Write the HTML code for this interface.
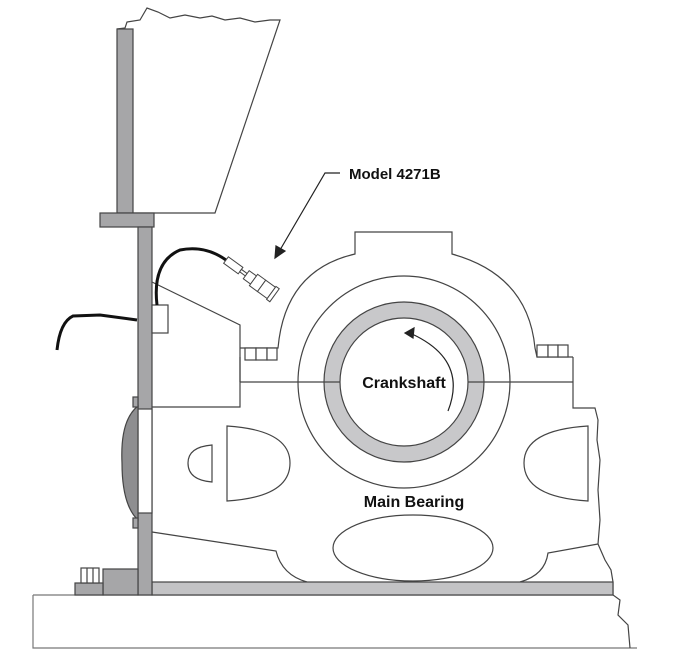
<!DOCTYPE html>
<html><head><style>html,body{margin:0;padding:0;background:#fff}svg{display:block}</style></head><body>
<svg width="685" height="661" viewBox="0 0 685 661" xmlns="http://www.w3.org/2000/svg" fill="none" stroke="#444" stroke-width="1.2">
<path d="M117 29 L125 28 L127 22 L140 20 L147 8 L158 12 L170 18 L185 15 L200 18 L212 16 L225 20 L240 18 L255 22 L270 20 L280 20 L215 213 L133 213" fill="#fff"/>
<rect x="117" y="29" width="16" height="184" fill="#a6a6a8"/>
<rect x="100" y="213" width="54" height="14" fill="#a6a6a8"/>
<path d="M33 595 L613 595 M33 595 L33 648 L637 648" stroke="#777"/>
<path d="M613 582 L613 595 L620 600 L618 615 L628 625 L630 648"/>
<path d="M152 282 L240 325 L240 407 L152 407"/>
<path d="M240 357 L240 382 M573 357 L573 408 L595 408 L598 420 L597 440 L600 460 L598 490 L600 520 L598 544 L605 560 L611 570 L613 582"/>
<path d="M240 348 L278 348 Q285 270 355 254 L355 232 L452 232 L452 254 Q528 275 535 348 L537 357 L573 357"/>
<path d="M152 532 L276 551 Q282 575 307 582 M520 582 Q545 575 548 553 L598 544"/>
<circle cx="404" cy="382" r="106"/>
<circle cx="404" cy="382" r="72" stroke="#c8c8ca" stroke-width="16"/>
<circle cx="404" cy="382" r="80"/>
<circle cx="404" cy="382" r="64"/>
<path d="M240 382 L340 382 M468 382 L573 382"/>
<g fill="#fff"><rect x="245" y="348" width="11" height="12"/><rect x="256" y="348" width="11" height="12"/><rect x="267" y="348" width="10" height="12"/>
<rect x="537" y="345" width="11" height="12"/><rect x="548" y="345" width="10" height="12"/><rect x="558" y="345" width="10" height="12"/></g>
<path d="M212 445 L212 482 Q188 480 188 463 Q188 447 212 445 Z"/>
<path d="M227 426 L227 501 Q290 497 290 463 Q290 430 227 426 Z"/>
<path d="M588 426 L588 501 Q524 497 524 463 Q524 430 588 426 Z"/>
<ellipse cx="413" cy="548" rx="80" ry="33"/>
<rect x="152" y="582" width="461" height="13" fill="#c3c3c5"/>
<rect x="138" y="227" width="14" height="368" fill="#a6a6a8"/>
<rect x="138" y="409" width="14" height="104" fill="#fff"/>
<path d="M138 406 Q120 420 122 463 Q122 505 138 520 Z" fill="#8e8e90"/>
<rect x="133" y="397" width="5" height="10" fill="#a6a6a8"/>
<rect x="133" y="518" width="5" height="10" fill="#a6a6a8"/>
<rect x="103" y="569" width="35" height="26" fill="#a6a6a8"/>
<rect x="75" y="583" width="28" height="12" fill="#a6a6a8"/>
<rect x="81" y="568" width="18" height="15" fill="#fff"/><path d="M87 568 L87 583 M93 568 L93 583"/>
<rect x="152" y="305" width="16" height="28" fill="#fff"/>
<path d="M157 305 Q152 262 180 250 Q205 245 226 260" stroke="#111" stroke-width="3"/>
<path d="M137 320 L100 315 L73 316 Q60 322 57 350" stroke="#111" stroke-width="3"/>
<g transform="translate(226,260) rotate(36)" fill="#fff" stroke-width="1">
<rect x="0" y="-4" width="18" height="8"/><rect x="18" y="-1.5" width="7" height="3"/><rect x="25" y="-5" width="9" height="10"/>
<rect x="34" y="-7" width="10" height="14"/><rect x="44" y="-7" width="12" height="14"/><rect x="56" y="-8" width="4" height="16"/>
</g>
<path d="M340 173 L325 173 L280 250" stroke="#222"/>
<path d="M275 258 L276 246 L285 251 Z" fill="#222" stroke="#222"/>
<path d="M448 411 Q468 360 412 334" stroke="#222"/>
<path d="M405 333 L414 328 L413 338 Z" fill="#222" stroke="#222"/>
<g font-family="Liberation Sans, sans-serif" font-weight="bold" fill="#111" stroke="none">
<text x="349" y="179" font-size="15">Model 4271B</text>
<text x="404" y="388" font-size="16" text-anchor="middle">Crankshaft</text>
<text x="414" y="507" font-size="16" text-anchor="middle">Main Bearing</text>
</g>
</svg>
</body></html>
